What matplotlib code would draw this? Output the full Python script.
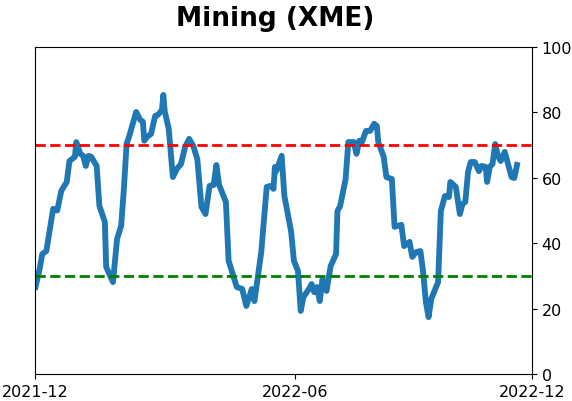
import matplotlib
matplotlib.use('Agg')
import matplotlib.pyplot as plt
import numpy as np
import pandas as pd

# days after 2021-12-01 and indicator value
days = [0, 3, 5, 8, 13, 16, 19, 23, 25, 29, 30, 33, 35, 37, 39, 41, 45, 47, 51, 52,
        57, 60, 63, 65, 67, 69, 74, 77, 79, 80, 82, 85, 88, 90, 93, 94, 95, 98, 101, 104,
        107, 110, 113, 116, 119, 122, 125, 128, 131, 133, 135, 140, 142, 148, 152, 155, 159, 161, 166, 170,
        173, 175, 176, 177, 181, 183, 188, 190, 193, 195, 197, 201, 203, 205, 207, 209, 211, 214, 217, 221,
        222, 224, 228, 230, 234, 236, 238, 240, 243, 246, 249, 251, 252, 256, 258, 262, 264, 269, 271, 275,
        277, 280, 283, 285, 287, 289, 291, 296, 298, 301, 304, 305, 309, 312, 314, 316, 318, 320, 323, 326,
        328, 331, 332, 334, 336, 338, 340, 342, 345, 347, 350, 352, 354]
values = [26.6, 32, 36.7, 37.6, 50.5, 50, 56, 58.7, 65.1, 66.4, 70.9, 67.3, 66.7, 63.6, 66.7, 66.4, 63.6, 51.4, 46.5, 32.7,
          28.1, 41.3, 45.3, 56.6, 70.3, 72.8, 80.1, 77.7, 77.1, 71.3, 72.5, 73.4, 78.9, 79.2, 80.7, 85.3, 80.4, 74.9, 60.2, 62.7,
          64.2, 69.4, 71.9, 69.7, 65.7, 51.1, 48.9, 57.5, 57.8, 63.9, 57.8, 52.6, 34.6, 26.6, 26, 20.8, 26, 22.3, 37.3, 57.2,
          57.5, 56.6, 63.3, 62, 66.7, 54.4, 43.4, 34.6, 31.5, 19.3, 23.5, 26, 27.5, 25, 26.6, 22.3, 29, 25.4, 33, 36.7,
          49.8, 51.4, 59.6, 70.9, 70.9, 67.3, 71.3, 70.9, 74.3, 74.3, 76.5, 75.8, 70.9, 66.4, 60.2, 59.6, 45, 45.6, 39.1, 40.4,
          35.8, 37.3, 37.6, 31.2, 22, 17.4, 23, 28.1, 49.8, 54.4, 54.1, 58.7, 57.2, 48.9, 52, 52.6, 61.8, 64.8, 64.8, 62,
          63.6, 63.3, 58.7, 63.3, 64.2, 70.3, 66.7, 65.1, 67.9, 64.8, 60.2, 59.9, 63.9]

start = pd.Timestamp('2021-12-01')
end = pd.Timestamp('2022-12-01')
tick_dates = [start, pd.Timestamp('2022-06-10'), end]
tick_labels = ['2021-12', '2022-06', '2022-12']
upper, lower = 70, 30

dates = start + pd.to_timedelta(days, unit='D')

fig = plt.figure(figsize=(5.72, 4.02), dpi=100)
ax = fig.add_axes([0.062, 0.067, 0.868, 0.814])

ax.plot(dates, values, color='tab:blue', lw=4.2)
ax.axhline(upper, color='red', ls='--', lw=2)
ax.axhline(lower, color='green', ls='--', lw=2)

ax.set_xlim(start, end)
ax.set_ylim(0, 100)
ax.set_xticks(tick_dates)
ax.set_xticklabels(tick_labels, fontsize=11.5)
ax.yaxis.tick_right()
ax.set_yticks([0, 20, 40, 60, 80, 100])
ax.tick_params(axis='y', labelsize=11.5)
ax.set_title('Mining (XME)', fontsize=19, fontweight='bold', pad=16, x=0.483)

fig.savefig('out.png', dpi=100)
